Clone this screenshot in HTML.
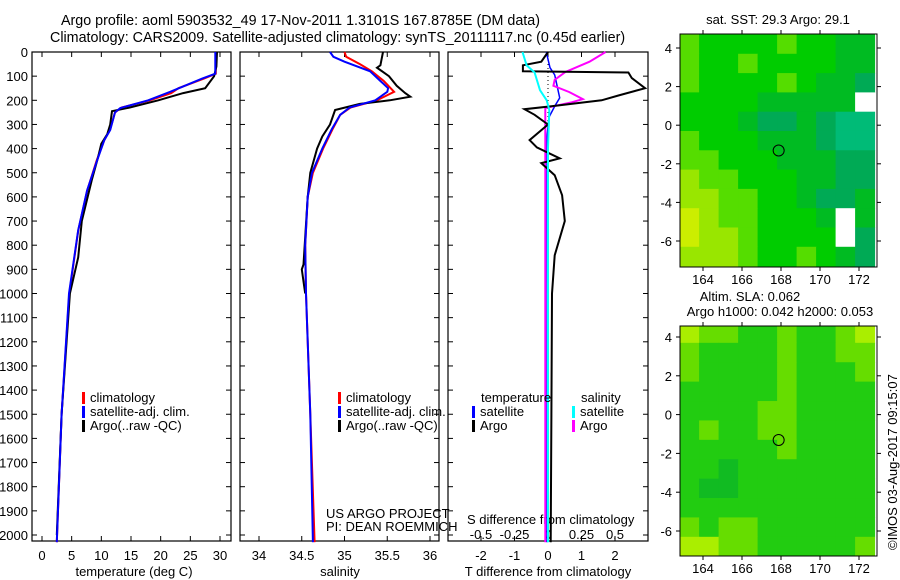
<!DOCTYPE html>
<html><head><meta charset="utf-8"><style>
body{margin:0;background:#fff}
svg{display:block;font-family:"Liberation Sans",sans-serif;font-size:13px}
</style></head><body>
<svg id="c" width="900" height="580" xmlns="http://www.w3.org/2000/svg"></svg>
<script>
// ---- data ----
const depthTicks=[0,100,200,300,400,500,600,700,800,900,1000,1100,1200,1300,1400,1500,1600,1700,1800,1900,2000];
const tTicks=[0,5,10,15,20,25,30];
const sTicks=[34,34.5,35,35.5,36];
const dTTicks=[-2,-1,0,1,2];
const dSTicks=[-0.5,-0.25,0,0.25,0.5];
const tempClimD=[0,90,110,150,170,200,230,250,320,365,450,575,740,1000,1500,2030];
const tempClimV=[29.3,29.3,27.3,23.0,21.8,18.2,13.4,12.3,11.5,10.5,9.2,7.6,6.1,4.6,3.3,2.5];
const tempSatD=[0,90,110,165,200,232,250,323,365,448,573,738,1000,1500,2030];
const tempSatV=[29.2,29.2,27.0,21.6,17.9,13.2,12.3,11.5,10.5,9.3,7.6,6.1,4.55,3.3,2.5];
const tempArgoD=[0,60,100,150,170,200,230,245,300,340,380,440,530,700,850,1000,1500,2000];
const tempArgoV=[29.5,29.4,29.0,27.5,23.8,19.6,14.8,11.8,11.5,11.0,10.0,9.4,8.4,6.7,6.1,4.7,3.3,2.5];
const salClimD=[0,20,50,80,120,165,200,230,260,320,400,500,600,800,1000,1500,2030];
const salClimV=[35.0,35.02,35.18,35.32,35.46,35.58,35.38,35.07,34.95,34.86,34.75,34.63,34.57,34.54,34.55,34.6,34.65];
const salSatD=[0,20,40,80,120,150,165,200,230,260,320,400,500,600,800,1000,1500,2030];
const salSatV=[34.83,34.87,35.0,35.3,35.42,35.51,35.5,35.36,35.06,34.95,34.85,34.74,34.62,34.57,34.54,34.55,34.6,34.63];
const salArgoD=[0,55,65,100,140,170,185,200,215,240,300,350,400,500,600,880,900,1000];
const salArgoV=[35.45,35.42,35.38,35.52,35.61,35.71,35.77,35.53,35.18,34.89,34.83,34.74,34.68,34.6,34.57,34.52,34.5,34.54];
const dTArgoD=[0,40,55,80,85,108,150,180,200,225,237,260,300,365,395,440,460,510,593,700,842,1000,1500,2030];
const dTArgoV=[0,-0.2,-0.75,-0.75,2.4,2.5,2.9,2.1,1.6,0.1,-0.7,-0.4,0,-0.55,-0.33,0.35,-0.2,0.2,0.42,0.5,0.2,0.12,0.1,0.08];
const dTSatD=[0,65,95,190,225,270,350,1000,2030];
const dTSatV=[-0.05,0.06,0.2,0.35,0.2,0.03,-0.03,-0.02,-0.03];
const dSSatD=[0,55,85,158,200,240,400,2030];
const dSSatV=[-0.19,-0.16,-0.1,-0.06,-0.01,0.01,0.0,0.0];
const dSArgoD=[0,40,83,115,140,166,195,208,232,300,600,2030];
const dSArgoV=[0.43,0.31,0.13,0.05,0.04,0.16,0.26,0.18,-0.02,-0.02,-0.02,-0.02];
const lonTicks=[164,166,168,170,172];
const latTicks=[4,2,0,-2,-4,-6];
const sstGrid=[
[2,3,3,3,3,2,3,3,4,4],[2,3,3,2,3,3,3,3,4,4],[2,3,3,3,3,2,3,4,4,5],[3,3,3,3,4,4,4,4,4,9],
[3,3,3,4,5,5,4,5,6,6],[2,3,3,3,4,4,4,5,6,6],[2,2,3,3,3,4,4,4,5,5],[1,2,2,3,3,3,4,4,5,5],
[1,1,2,2,3,3,4,5,5,4],[0,1,2,2,3,3,3,4,9,4],[0,1,1,2,3,3,3,3,9,5],[1,1,1,2,3,3,2,3,4,5]];
const slaGrid=[
[1,2,2,3,3,2,3,3,2,1],[2,3,3,3,3,2,3,3,2,2],[2,3,3,3,3,2,3,3,3,2],[3,3,3,3,3,2,3,3,3,3],
[3,3,3,3,2,2,3,3,3,3],[3,2,3,3,2,2,3,3,3,3],[3,3,3,3,3,2,3,3,3,3],[3,3,4,3,3,3,3,3,3,3],
[3,4,4,3,3,3,3,3,3,3],[3,3,3,3,3,3,3,3,3,3],[2,3,2,2,3,3,3,3,3,3],[1,1,2,2,3,3,3,3,3,2]];
const argoLon=167.88, argoLat=-1.31;

// ---- helpers ----
const NS="http://www.w3.org/2000/svg", svg=document.getElementById('c');
function el(t,a,txt){const e=document.createElementNS(NS,t);for(const k in a)e.setAttribute(k,a[k]);if(txt!==undefined)e.textContent=txt;svg.appendChild(e);return e;}
const Y0=52, YB=541;
const yD=d=>Y0+d*0.2415;
function lin(v0,p0,v1,p1){return v=>p0+(v-v0)*(p1-p0)/(v1-v0);}
const xT=lin(0,42,30,220), xS=lin(34,259,36,430), xDT=lin(-2,481,2,615), xDS=v=>xDT(v*4);

// title
let e=el('text',{x:61,y:25,'font-size':14.3},'Argo profile: aoml 5903532_49 17-Nov-2011 1.3101S 167.8785E (DM data)');

e=el('text',{x:50,y:42,'font-size':14.3},'Climatology: CARS2009. Satellite-adjusted climatology: synTS_20111117.nc (0.45d earlier)');


// depth labels
depthTicks.forEach(d=>{const t=el('text',{x:28,y:yD(d)+5,'text-anchor':'end'},d);
});

const panels=[{x0:32,x1:231,name:'temperature'},{x0:240,x1:439,name:'salinity'},{x0:448,x1:648,name:'difference'}];
panels.forEach(p=>{
  const r=el('rect',{x:p.x0,y:Y0,width:p.x1-p.x0,height:YB-Y0,fill:'none',stroke:'#000','stroke-width':1.2});
  
  depthTicks.forEach(d=>{el('line',{x1:p.x0,x2:p.x0+5,y1:yD(d),y2:yD(d),stroke:'#000'});el('line',{x1:p.x1-5,x2:p.x1,y1:yD(d),y2:yD(d),stroke:'#000'});});
});
function xticks(vals,f){vals.forEach(v=>{const x=f(v);el('line',{x1:x,x2:x,y1:YB,y2:YB-5,stroke:'#000'});el('line',{x1:x,x2:x,y1:Y0,y2:Y0+5,stroke:'#000'});
 const t=el('text',{x:x,y:560,'text-anchor':'middle'},v);});}
xticks(tTicks,xT);xticks(sTicks,xS);xticks(dTTicks,xDT);
dSTicks.forEach(v=>{const t=el('text',{x:xDS(v),y:539,'text-anchor':'middle'},v);});
[['temperature (deg C)',134],['salinity',340],['T difference from climatology',548]].forEach(a=>{const t=el('text',{x:a[1],y:576,'text-anchor':'middle'},a[0]);});
e=el('text',{x:467,y:524},'S difference from climatology');
e=el('line',{x1:548,x2:548,y1:Y0,y2:YB,stroke:'#000','stroke-dasharray':'1,3'});

function series(D,V,fx,color,name,w){const pts=D.map((d,i)=>fx(V[i]).toFixed(1)+','+yD(d).toFixed(1)).join(' ');
 const s=el('polyline',{points:pts,fill:'none',stroke:color,'stroke-width':w||2});}
series(tempClimD,tempClimV,xT,'#f00','temp-climatology-line');
series(tempArgoD,tempArgoV,xT,'#000','temp-argo-line');
series(tempSatD,tempSatV,xT,'#00f','temp-satellite-line');
series(salClimD,salClimV,xS,'#f00','sal-climatology-line');
series(salArgoD,salArgoV,xS,'#000','sal-argo-line');
series(salSatD,salSatV,xS,'#00f','sal-satellite-line');
series(dTSatD,dTSatV,xDT,'#00f','dT-satellite-line',1.5);
series(dSArgoD,dSArgoV,xDS,'#f0f','dS-argo-line');
series(dTArgoD,dTArgoV,xDT,'#000','dT-argo-line');
series(dSSatD,dSSatV,xDS,'#0ff','dS-satellite-line');

function leg(x,y,color,label){const b=el('rect',{x:x,y:y-10,width:3,height:12,fill:color});
 const t=el('text',{x:x+8,y:y},label);}
[['#f00','climatology'],['#00f','satellite-adj. clim.'],['#000','Argo(..raw -QC)']].forEach((a,i)=>leg(82,402+i*14,a[0],a[1]));
[['#f00','climatology'],['#00f','satellite-adj. clim.'],['#000','Argo(..raw -QC)']].forEach((a,i)=>leg(338,402+i*14,a[0],a[1]));
e=el('text',{x:481,y:402},'temperature');
e=el('text',{x:581,y:402},'salinity');
leg(472,416,'#00f','satellite');leg(472,430,'#000','Argo');leg(572,416,'#0ff','satellite');leg(572,430,'#f0f','Argo');
e=el('text',{x:326,y:518},'US ARGO PROJECT');
e=el('text',{x:326,y:531},'PI: DEAN ROEMMICH');

// maps
const pal1=['#ccee00','#99e600','#55dd00','#00cc00','#00bb22','#00aa55','#00bb77','','','#ffffff'];
const pal2=['#ccee00','#aaee00','#66dd00','#22cc11','#11bb22'];
function map(grid,pal,yTop,yBot,lat4y,latm6y,name){
 const x0=680,x1=877,lonX=lin(164,703,172,859),latY=lin(4,lat4y,-6,latm6y);
 grid.forEach((row,r)=>row.forEach((v,c)=>{const xa=lonX(162.8+c),xb=lonX(163.8+c),ya=latY(4.7-r),yb=latY(3.7-r);
  const cl=el('rect',{x:Math.max(x0,xa),y:Math.max(yTop,ya),width:Math.min(x1,xb)-Math.max(x0,xa)+0.5,height:Math.min(yBot,yb)-Math.max(yTop,ya)+0.5,fill:pal[v]});
  }));
 const f=el('rect',{x:x0,y:yTop,width:x1-x0,height:yBot-yTop,fill:'none',stroke:'#000'});
 lonTicks.forEach(v=>{const x=lonX(v);el('line',{x1:x,x2:x,y1:yBot,y2:yBot+4,stroke:'#000'});el('line',{x1:x,x2:x,y1:yTop,y2:yTop-4,stroke:'#000'});
  const t=el('text',{x:x,y:yBot+17,'text-anchor':'middle'},v);});
 latTicks.forEach(v=>{const y=latY(v);el('line',{x1:x0,x2:x0-4,y1:y,y2:y,stroke:'#000'});el('line',{x1:x1,x2:x1+4,y1:y,y2:y,stroke:'#000'});
  const t=el('text',{x:672,y:y+5,'text-anchor':'end'},v);});
 const c=el('circle',{cx:lonX(argoLon),cy:latY(argoLat),r:5.5,fill:'none',stroke:'#000'});
}
map(sstGrid,pal1,34,267,48,241,'sst-map');
map(slaGrid,pal2,326,556,337,531,'sla-map');
e=el('text',{x:778,y:24,'text-anchor':'middle'},'sat. SST: 29.3 Argo: 29.1');
e=el('text',{x:750,y:301,'text-anchor':'middle'},'Altim. SLA: 0.062');
e=el('text',{x:780,y:316,'text-anchor':'middle'},'Argo h1000: 0.042 h2000: 0.053');
e=el('text',{x:0,y:0,transform:'translate(897,550) rotate(-90)'},'©IMOS 03-Aug-2017 09:15:07');
</script>
</body></html>
